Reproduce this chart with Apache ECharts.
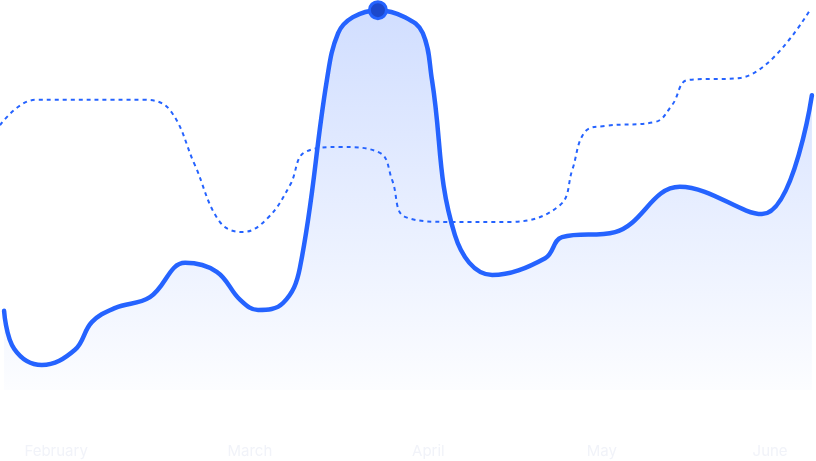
<!DOCTYPE html>
<html>
<head>
<meta charset="utf-8">
<style>
html,body{margin:0;padding:0;background:#fff;}
#chart{width:816px;height:461px;}
</style>
<script src="https://cdn.jsdelivr.net/npm/echarts@6/dist/echarts.min.js"></script>
</head>
<body>
<div id="chart"></div>
<script>
// Month labels and their positions on the timeline (day index)
const monthLabels = ['February', 'March', 'April', 'May', 'June'];
const monthPos = [11, 49, 84, 118, 151];

// Main series (solid line with area): timeline positions and values
const mainX = [0.8, 2.8, 8.2, 14.7, 18.0, 22.5, 29.4, 36.3, 42.5, 47.1, 50.6, 55.5, 58.8, 64.1, 66.3, 69.2, 74.1, 79.4, 82.9, 84.7, 89.2, 96.5, 106.9, 110.2, 120.6, 133.3, 149.4, 159.2];
const mainY = [20.3, 10.5, 6.4, 10.3, 17.4, 21.0, 23.8, 32.6, 30.3, 23.1, 20.5, 22.3, 31.3, 79.5, 91.5, 95.6, 97.4, 95.6, 91.5, 79.5, 39.7, 29.5, 33.8, 39.2, 40.5, 52.1, 45.1, 75.6];

// Comparison series (dotted line)
const compX = [0, 6.9, 28.4, 33.3, 38.2, 43.1, 47.6, 52.5, 56.9, 59.8, 66.7, 74.5, 76.9, 79.4, 88.2, 100, 109.8, 112.2, 114.7, 118.6, 128.4, 131.8, 134.9, 145.1, 158.8];
const compY = [67.9, 74.4, 74.4, 71.8, 57.7, 43.1, 40.5, 44.1, 52.6, 61.0, 62.3, 60.8, 53.8, 44.4, 43.1, 43.1, 47.4, 56.4, 66.2, 67.7, 68.7, 73.1, 79.5, 80.0, 97.4];

// Highlighted peak
const peakX = [74.1];
const peakY = [97.4];

const zip = (xs, ys) => xs.map((x, i) => [x, ys[i]]);

const chart = echarts.init(document.getElementById('chart'), null, {renderer: 'canvas'});
chart.setOption({
  animation: false,
  backgroundColor: '#ffffff',
  grid: {left: 0, right: 0, top: 0, bottom: 71, containLabel: false},
  xAxis: {
    type: 'value',
    min: 0,
    max: 160,
    axisLine: {show: false},
    axisTick: {show: false},
    splitLine: {show: false},
    axisLabel: {
      customValues: monthPos,
      formatter: v => monthLabels[monthPos.indexOf(v)] || '',
      color: '#f1f3f9',
      fontSize: 15,
      fontFamily: 'Inter, Roboto, sans-serif',
      margin: 54
    }
  },
  yAxis: {
    type: 'value',
    min: 0,
    max: 100,
    show: false,
    splitLine: {show: false}
  },
  series: [
    {
      type: 'line',
      data: zip(compX, compY),
      smooth: 0.4,
      symbol: 'none',
      lineStyle: {color: '#2563ff', width: 2, type: [4, 4]},
      z: 2
    },
    {
      type: 'line',
      data: zip(mainX, mainY),
      smooth: 0.4,
      symbol: 'none',
      lineStyle: {color: '#2563ff', width: 4.5, cap: 'round'},
      areaStyle: {
        color: new echarts.graphic.LinearGradient(0, 0, 0, 1, [
          {offset: 0, color: 'rgba(37,99,255,0.30)'},
          {offset: 1, color: 'rgba(37,99,255,0.02)'}
        ])
      },
      z: 3
    },
    {
      type: 'scatter',
      data: zip(peakX, peakY),
      symbolSize: 17,
      itemStyle: {color: '#1c48cc', borderColor: '#2563ff', borderWidth: 3, opacity: 1},
      z: 4
    }
  ]
});
</script>
</body>
</html>
